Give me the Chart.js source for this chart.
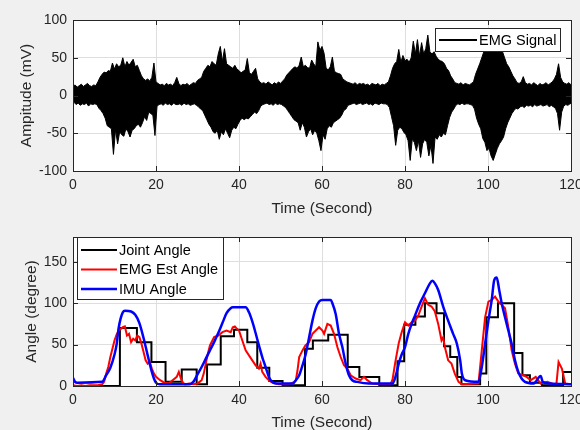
<!DOCTYPE html>
<html>
<head>
<meta charset="utf-8">
<script src="https://cdn.jsdelivr.net/npm/chart.js@4"></script>
<style>
  body { margin: 0; background: #f0f0f0; }
  #wrap { position: relative; width: 580px; height: 430px; overflow: hidden; }
  canvas { position: absolute; left: 0; }
</style>
</head>
<body>
<div id="wrap">
  <canvas id="emgChart" width="580" height="220" style="top:0"></canvas>
  <canvas id="angleChart" width="580" height="210" style="top:220px"></canvas>
</div>
<script>
// x axis ticks (seconds) shared by both panels
var timeTicks = [0, 20, 40, 60, 80, 100, 120];
var emgTicks = [-100, -50, 0, 50, 100];
var angleTicks = [0, 50, 100, 150];

var emgStep = 0.5;
var emgHigh = [
  12, 14, 11, 13, 15, 12, 14, 16, 13, 12,
  14, 13, 18, 24, 28, 31, 30, 33, 32, 43,
  35, 42, 38, 40, 50, 38, 45, 40, 44, 48,
  38, 40, 33, 26, 22, 20, 22, 19, 24, 43,
  18, 16, 14, 15, 13, 16, 14, 15, 13, 17,
  24, 16, 13, 15, 14, 16, 13, 15, 17, 16,
  20, 22, 24, 32, 36, 40, 38, 45, 42, 40,
  55, 65, 45, 62, 42, 40, 38, 36, 40, 35,
  33, 30, 32, 34, 49, 30, 28, 32, 36, 22,
  18, 16, 17, 15, 18, 16, 14, 17, 15, 18,
  16, 19, 22, 27, 30, 33, 36, 38, 36, 40,
  51, 38, 40, 37, 36, 47, 42, 38, 71, 60,
  65, 56, 36, 34, 38, 51, 32, 30, 29, 28,
  22, 20, 18, 17, 16, 15, 17, 14, 16, 15,
  16, 14, 15, 13, 16, 15, 14, 16, 13, 15,
  14, 16, 18, 26, 36, 42, 45, 61, 44, 53,
  46, 48, 44, 50, 72, 55, 74, 52, 70, 55,
  62, 80, 58, 55, 58, 52, 48, 46, 45, 42,
  36, 33, 26, 22, 17, 16, 15, 17, 14, 16,
  15, 14, 16, 18, 28, 35, 42, 50, 58, 62,
  64, 66, 62, 65, 63, 64, 60, 58, 50, 42,
  38, 32, 26, 22, 17, 16, 18, 25, 17, 15,
  16, 14, 17, 15, 13, 16, 14, 15, 17, 14,
  16, 18, 22, 28, 42, 24, 18, 16, 15, 17,
  14
];
var emgLow = [
  -9, -12, -10, -13, -11, -12, -10, -14, -11, -12,
  -11, -12, -17, -20, -24, -30, -40, -42, -44, -78,
  -45, -64, -48, -52, -54, -44, -48, -55, -46, -44,
  -40, -38, -42, -36, -28, -33, -22, -24, -26, -53,
  -14, -12, -11, -13, -10, -12, -11, -13, -10, -12,
  -12, -11, -13, -10, -12, -11, -13, -12, -11, -13,
  -15, -18, -20, -26, -32, -38, -42, -48, -50, -46,
  -58, -48, -52, -44, -50, -56, -46, -42, -44, -38,
  -33, -30, -32, -30, -31, -28, -25, -22, -24, -20,
  -14, -12, -11, -10, -12, -11, -13, -10, -12, -11,
  -12, -14, -16, -20, -24, -28, -32, -34, -36, -46,
  -36, -42, -55, -48, -44, -52, -46, -50, -60, -73,
  -52, -58, -44, -40, -42, -36, -34, -32, -30, -26,
  -20, -18, -13, -12, -11, -10, -12, -11, -10, -12,
  -11, -10, -12, -11, -13, -10, -11, -12, -10, -11,
  -11, -12, -16, -28, -40, -66, -46, -42, -44, -49,
  -52, -60, -86, -58, -62, -73, -60, -82, -64, -58,
  -62, -80, -66, -90, -55, -58, -52, -55, -50, -52,
  -40, -29, -22, -18, -13, -11, -12, -10, -12, -11,
  -11, -12, -13, -18, -30, -38, -44, -57, -62, -73,
  -70, -80, -86, -78, -70, -64, -60, -55, -44, -36,
  -30, -24, -20, -17, -18, -15, -14, -16, -13, -14,
  -13, -15, -12, -14, -13, -12, -14, -13, -12, -15,
  -13, -15, -17, -24, -46, -22, -14, -12, -13, -11,
  -10
];

// measured joint angle (step signal)
var jointTime = [0, 11.3, 15.4, 18.9, 22.3, 26.2, 29.8, 32.3, 35.6, 38.8,
  42, 44.4, 47.3, 50.5, 55.9, 57.8, 61.5, 66.2, 69, 73.8,
  78.2, 79.8, 82.5, 84.8, 87.6, 89.4, 90.9, 92.6, 93.6, 98.1,
  99.6, 102.4, 106.3, 108.3, 110.1, 113, 118.1, 120];
var jointAngle = [0, 70, 53, 29, 5, 20, 2, 26, 60, 68,
  53, 22, 6, 1, 45, 55, 62, 23, 11, 1,
  30, 74, 84, 100, 88, 48, 35, 11, 2, 15,
  83, 100, 40, 13, 4, 1, 17, 17];

// angle estimated from EMG
var estTime = [0, 1, 2, 3, 4, 5, 6, 7, 7.5, 8,
  8.5, 9, 9.5, 10, 10.5, 11, 11.5, 12, 12.5, 13,
  13.5, 14, 14.5, 15, 15.5, 16, 16.5, 17, 17.5, 18,
  18.5, 19, 19.5, 20, 21, 22, 23, 24, 25, 25.5,
  26, 26.5, 27, 28, 29, 30, 30.5, 31, 31.5, 32,
  32.5, 33, 34, 35, 36, 37, 38, 38.5, 39, 39.5,
  40, 40.8, 41.6, 42.4, 43.2, 44, 44.8, 45.2, 45.6, 46.4,
  47.2, 48, 49.6, 52, 53, 53.7, 54.1, 54.5, 55.3, 56,
  56.9, 57.7, 58.5, 59.3, 60.1, 60.5, 61.3, 62.1, 62.9, 63.7,
  64.5, 65.3, 66.1, 66.9, 68.1, 69.3, 70.1, 70.9, 72.1, 74.5,
  76.5, 77, 77.7, 78.5, 79.2, 80, 80.8, 81.6, 82.4, 83.2,
  84, 84.8, 85.6, 86.4, 87.2, 88, 88.8, 89.2, 89.6, 90.4,
  91.2, 92, 92.9, 93.7, 97.7, 98.5, 99.3, 100.1, 100.9, 101.7,
  102.5, 103.3, 104.1, 104.9, 105.7, 106.5, 107.3, 108.5, 109.3, 110.3,
  111.5, 112.7, 114.3, 116, 116.5, 117, 117.8, 118.6, 120];
var estAngle = [1, 0, 1, 0, 1, 1, 1, 2, 5, 15,
  23, 35, 45, 55, 62, 67, 69, 71, 72, 61,
  63, 53, 57, 55, 61, 59, 51, 41, 31, 27,
  29, 21, 15, 11, 7, 4, 3, 7, 11, 17,
  9, 4, 2, 3, 2, 3, 5, 7, 15, 27,
  39, 49, 59, 61, 65, 67, 65, 71, 72, 69,
  67, 55, 43, 37, 31, 25, 21, 27, 17, 11,
  7, 4, 2, 2, 4, 7, 19, 35, 43, 49,
  53, 63, 67, 71, 67, 63, 75, 73, 63, 47,
  35, 25, 21, 13, 9, 7, 11, 7, 3, 2,
  2, 8, 30, 52, 65, 77, 73, 77, 79, 85,
  96, 106, 98, 96, 90, 75, 55, 59, 47, 31,
  27, 15, 5, 2, 3, 43, 83, 102, 104, 108,
  102, 98, 94, 71, 43, 27, 15, 13, 11, 7,
  11, 3, 5, 2, 3, 29, 21, 3, 2];

// angle from the IMU
var imuTime = [0, 0.5, 1, 7, 8, 9, 10, 10.5, 11, 11.5,
  12, 12.5, 14, 15, 16, 17, 18, 19, 19.5, 20,
  21, 28, 29, 30, 31, 32, 33, 34, 35, 36,
  37, 38, 38.5, 41.6, 42.4, 43.2, 44, 44.8, 45.6, 46.4,
  47.2, 48, 49, 53, 53.7, 54.5, 55.3, 56.1, 56.9, 57.7,
  58.5, 59.3, 60.1, 62.1, 62.5, 63.3, 64.1, 64.9, 65.7, 66.5,
  67.3, 68.5, 71.3, 77, 77.7, 78.5, 79.2, 80, 80.8, 81.6,
  82.4, 83.6, 84.8, 86, 86.6, 87.2, 88, 89.2, 90.4, 91.6,
  92.5, 93.3, 93.7, 94.5, 97.7, 98.5, 99.3, 100.1, 100.9, 101.5,
  102.1, 102.7, 103.3, 104.1, 104.9, 105.7, 106.5, 107.3, 108.1, 108.9,
  111, 112.7, 113.2, 115, 120];
var imuAngle = [10, 5, 4, 5, 13, 22, 38, 50, 70, 82,
  89, 91, 90, 86, 76, 58, 37, 17, 9, 4,
  2, 2, 5, 14, 23, 33, 43, 53, 64, 76,
  88, 94, 95, 95, 89, 78, 64, 49, 35, 23,
  11, 5, 3, 3, 7, 13, 25, 39, 59, 79,
  94, 102, 104, 104, 100, 87, 63, 47, 27, 13,
  7, 5, 3, 3, 11, 27, 38, 47, 63, 75,
  85, 100, 112, 124, 127, 124, 116, 96, 79, 63,
  51, 31, 15, 7, 5, 23, 51, 79, 104, 128,
  131, 116, 100, 83, 67, 51, 31, 17, 9, 5,
  3, 12, 5, 3, 2];

var fontFamily = "'Liberation Sans', Arial, sans-serif";
var axisColor = '#262626';
var gridColor = '#dedede';

function toPoints(xs, ys) {
  return xs.map(function (x, i) { return { x: x, y: ys[i] }; });
}

// top and bottom edges of the EMG trace; the space between them is filled solid
var emgTop = emgHigh.map(function (h, i) { return { x: i * emgStep, y: h }; });
var emgBottom = emgLow.map(function (l, i) { return { x: i * emgStep + emgStep / 2, y: l }; });

// white axes box, inward ticks, boxed legend
var matlabLook = {
  id: 'matlabLook',
  beforeDraw: function (chart) {
    var a = chart.chartArea, ctx = chart.ctx;
    ctx.save();
    ctx.fillStyle = '#ffffff';
    ctx.fillRect(a.left, a.top, a.right - a.left, a.bottom - a.top);
    ctx.restore();
  },
  afterDatasetsDraw: function (chart, args, opts) {
    var a = chart.chartArea, ctx = chart.ctx;
    var xs = chart.scales.x, ys = chart.scales.y;
    ctx.save();
    ctx.strokeStyle = axisColor;
    ctx.lineWidth = 1;
    ctx.beginPath();
    xs.ticks.forEach(function (t) {
      var px = Math.round(xs.getPixelForValue(t.value)) + 0.5;
      ctx.moveTo(px, a.bottom); ctx.lineTo(px, a.bottom - 5);
      ctx.moveTo(px, a.top); ctx.lineTo(px, a.top + 5);
    });
    ys.ticks.forEach(function (t) {
      var py = Math.round(ys.getPixelForValue(t.value)) + 0.5;
      ctx.moveTo(a.left, py); ctx.lineTo(a.left + 5, py);
      ctx.moveTo(a.right, py); ctx.lineTo(a.right - 5, py);
    });
    ctx.stroke();
    ctx.strokeRect(Math.round(a.left) + 0.5, Math.round(a.top) + 0.5,
      Math.round(a.right - a.left), Math.round(a.bottom - a.top));

    var lg = opts.box;
    ctx.fillStyle = '#ffffff';
    ctx.fillRect(lg.left, lg.top, lg.width, lg.height);
    ctx.strokeStyle = axisColor;
    ctx.strokeRect(lg.left + 0.5, lg.top + 0.5, lg.width, lg.height);
    ctx.font = '14.5px ' + fontFamily;
    ctx.textBaseline = 'middle';
    var row = 0;
    chart.data.datasets.forEach(function (ds) {
      if (!ds.label) return;
      var y = lg.top + lg.firstRow + row * lg.rowGap;
      row++;
      ctx.strokeStyle = ds.borderColor;
      ctx.lineWidth = Math.max(ds.borderWidth, 2);
      ctx.beginPath();
      ctx.moveTo(lg.left + lg.lineFrom, y);
      ctx.lineTo(lg.left + lg.lineTo, y);
      ctx.stroke();
      ctx.fillStyle = '#000000';
      ctx.fillText(ds.label, lg.left + lg.textAt, y + 0.5);
    });
    ctx.restore();
  }
};

function scaleOptions(tickValues, min, max, title, isX, size, titlePad) {
  return {
    type: 'linear',
    min: min,
    max: max,
    afterBuildTicks: function (s) {
      s.ticks = tickValues.map(function (v) { return { value: v }; });
    },
    afterFit: function (s) {
      if (isX) { s.height = size; s.paddingLeft = 0; s.paddingRight = 0; }
      else { s.width = size; s.paddingTop = 0; s.paddingBottom = 0; }
    },
    grid: { color: gridColor, drawTicks: false },
    border: { display: false },
    ticks: { padding: 6, color: axisColor, maxRotation: 0, autoSkip: false,
      font: { family: fontFamily, size: 14 } },
    title: { display: true, text: title, color: axisColor, padding: titlePad,
      font: { family: fontFamily, size: 15.5, lineHeight: 1 } }
  };
}

new Chart(document.getElementById('emgChart'), {
  type: 'line',
  data: {
    datasets: [{
      label: 'EMG Signal',
      data: emgTop,
      borderColor: '#000000',
      backgroundColor: '#000000',
      borderWidth: 1,
      pointRadius: 0,
      tension: 0,
      fill: '+1'
    }, {
      label: '',
      data: emgBottom,
      borderColor: '#000000',
      borderWidth: 1,
      pointRadius: 0,
      tension: 0,
      fill: false
    }]
  },
  options: {
    responsive: false,
    animation: false,
    events: [],
    layout: { padding: { left: 0, right: 9, top: 20, bottom: 0 } },
    plugins: {
      legend: { display: false },
      tooltip: { enabled: false },
      matlabLook: { box: { left: 435, top: 28, width: 125, height: 23, firstRow: 12,
        rowGap: 19.5, lineFrom: 4, lineTo: 42, textAt: 44 } }
    },
    scales: {
      x: scaleOptions(timeTicks, 0, 120, 'Time (Second)', true, 49, { top: 0, bottom: 4 }),
      y: scaleOptions(emgTicks, -100, 100, 'Ampitude (mV)', false, 73, { top: 19, bottom: 0 })
    }
  },
  plugins: [matlabLook]
});

new Chart(document.getElementById('angleChart'), {
  type: 'line',
  data: {
    datasets: [{
      label: 'Joint Angle',
      data: toPoints(jointTime, jointAngle),
      borderColor: '#000000',
      borderWidth: 2,
      pointRadius: 0,
      stepped: true,
      order: 3
    }, {
      label: 'EMG Est Angle',
      data: toPoints(estTime, estAngle),
      borderColor: '#ff0000',
      borderWidth: 2,
      pointRadius: 0,
      tension: 0,
      order: 2
    }, {
      label: 'IMU Angle',
      data: toPoints(imuTime, imuAngle),
      borderColor: '#0000ff',
      borderWidth: 2.5,
      pointRadius: 0,
      cubicInterpolationMode: 'monotone',
      order: 1
    }]
  },
  options: {
    responsive: false,
    animation: false,
    events: [],
    layout: { padding: { left: 0, right: 9, top: 17, bottom: 0 } },
    plugins: {
      legend: { display: false },
      tooltip: { enabled: false },
      matlabLook: { box: { left: 77, top: 17, width: 146, height: 62, firstRow: 13,
        rowGap: 19.5, lineFrom: 4, lineTo: 40, textAt: 42 } }
    },
    scales: {
      x: scaleOptions(timeTicks, 0, 120, 'Time (Second)', true, 44, { top: 0, bottom: 0 }),
      y: scaleOptions(angleTicks, 0, 180, 'Angle (degree)', false, 73, { top: 24, bottom: 0 })
    }
  },
  plugins: [matlabLook]
});
</script>
</body>
</html>
